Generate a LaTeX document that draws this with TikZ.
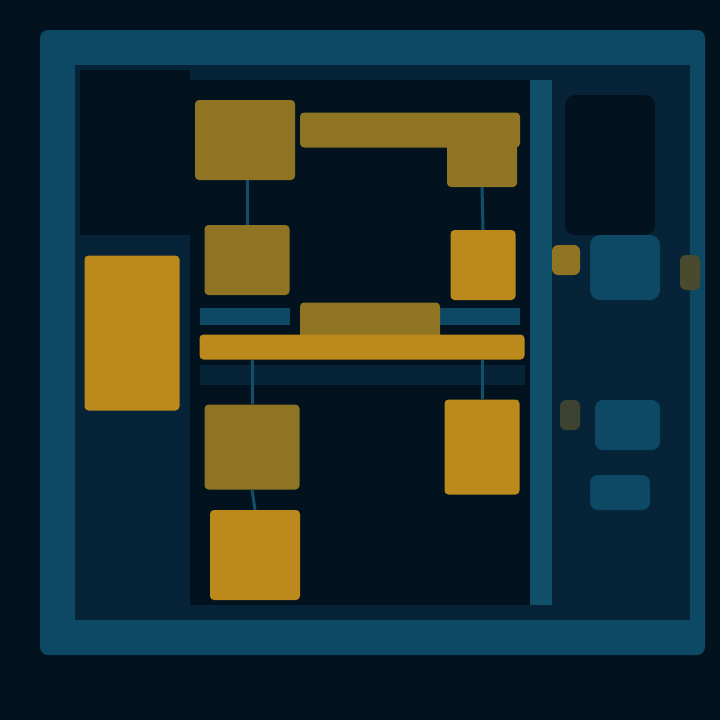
\documentclass[tikz,border=0pt]{standalone}
\usetikzlibrary{positioning, calc}
\usepackage{xcolor}
\definecolor{fondnuit}{HTML}{03121F}
\definecolor{fondbleu}{HTML}{062338}
\definecolor{cadresarcelle}{HTML}{0D4864}
\definecolor{bordsarcelle}{HTML}{11506B}
\definecolor{ambre}{HTML}{BC8A1C}
\definecolor{ambreterne}{HTML}{8F7424}

\begin{document}
\begin{tikzpicture}[x=1pt, y=-1pt,
    blok/.style={fill=ambre, rounded corners=4pt, inner sep=0pt},
    blokterne/.style={blok, fill=ambreterne},
    liaison/.style={draw=bordsarcelle, line width=3pt}]

  % Fond
  \fill[fondnuit] (0,0) rectangle (720,720);
  \useasboundingbox (0,0) rectangle (720,720);

  % Cadre extérieur
  \fill[cadresarcelle, rounded corners=8pt] (40,30) rectangle (705,655);
  \fill[fondbleu] (75,65) rectangle (690,620);
  \fill[fondnuit] (80,70) rectangle (190,235);

  % Panneau intérieur
  \fill[fondnuit] (190,80) rectangle (530,605);
  \fill[bordsarcelle] (530,80) rectangle (552,605);

  % Zone droite
  \fill[fondnuit, rounded corners=10pt] (565,95) rectangle (655,235);
  \fill[cadresarcelle, rounded corners=10pt] (590,235) rectangle (660,300);
  \fill[cadresarcelle, rounded corners=8pt] (595,400) rectangle (660,450);
  \fill[cadresarcelle, rounded corners=8pt] (590,475) rectangle (650,510);
  \fill[ambreterne, rounded corners=6pt] (552,245) rectangle (580,275);
  \fill[ambreterne!50!fondbleu, rounded corners=6pt] (680,255) rectangle (700,290);
  \fill[ambreterne!40!fondbleu, rounded corners=6pt] (560,400) rectangle (580,430);

  % Bandes sombres
  \fill[cadresarcelle] (200,308) rectangle (290,325);
  \fill[cadresarcelle] (440,308) rectangle (520,325);
  \fill[fondbleu] (200,365) rectangle (525,385);

  % En-tête
  \node[blokterne, minimum width=100pt, minimum height=80pt] (titreg) at (245,140) {};
  \node[blokterne, minimum width=220pt, minimum height=35pt] (titre) at (410,130) {};
  \node[blokterne, minimum width=70pt, minimum height=50pt] (titred) at (482,162) {};

  % Modules
  \node[blok, minimum width=95pt, minimum height=155pt] (pile) at (132,333) {};
  \node[blokterne, minimum width=85pt, minimum height=70pt] (moduleg) at (247,260) {};
  \node[blok, minimum width=65pt, minimum height=70pt] (moduled) at (483,265) {};
  \node[blokterne, minimum width=140pt, minimum height=55pt] (busmilieu) at (370,330) {};
  \node[blok, minimum width=325pt, minimum height=25pt] (bus) at (362,347) {};
  \node[blokterne, minimum width=95pt, minimum height=85pt] (basg) at (252,447) {};
  \node[blok, minimum width=90pt, minimum height=90pt] (basgg) at (255,555) {};
  \node[blok, minimum width=75pt, minimum height=95pt] (basd) at (482,447) {};

  % Liaisons
  \draw[liaison] (moduleg.north |- titreg.south) -- (moduleg.north);
  \draw[liaison] (titred.south) -- (moduled.north);
  \draw[liaison] (basg.north |- bus.south) -- (basg.north);
  \draw[liaison] (basd.north |- bus.south) -- (basd.north);
  \draw[liaison] (basg.south) -- (basgg.north);

\end{tikzpicture}
\end{document}
